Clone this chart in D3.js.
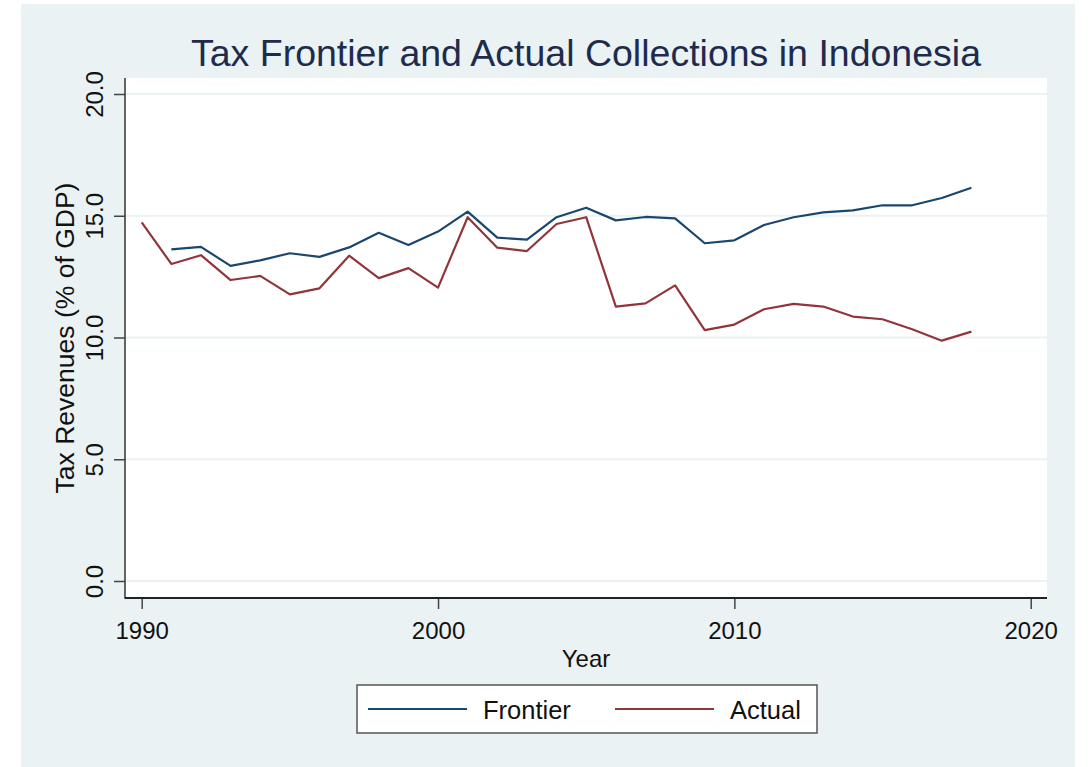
<!DOCTYPE html>
<html>
<head>
<meta charset="utf-8">
<script src="https://cdn.jsdelivr.net/npm/d3@7"></script>
<style>
  html, body { margin: 0; padding: 0; background: #ffffff; }
  svg { display: block; font-family: "Liberation Sans", Arial, sans-serif; }
</style>
</head>
<body>
<svg id="chart" width="1091" height="767"></svg>
<script>
// Tax revenues as % of GDP, Indonesia
const years = d3.range(1990, 2019);
const frontier = [null, 13.62, 13.72, 12.94, 13.17, 13.46, 13.31, 13.70, 14.30, 13.80,
  14.35, 15.17, 14.10, 14.02, 14.94, 15.33, 14.81, 14.95, 14.89, 13.87,
  13.99, 14.62, 14.94, 15.14, 15.22, 15.43, 15.43, 15.73, 16.15];
const actual = [14.73, 13.02, 13.38, 12.36, 12.53, 11.77, 12.02, 13.36, 12.44, 12.85,
  12.05, 14.94, 13.69, 13.55, 14.66, 14.94, 11.27, 11.40, 12.14, 10.30,
  10.53, 11.16, 11.38, 11.27, 10.86, 10.75, 10.34, 9.87, 10.24];
const xTicks = [1990, 2000, 2010, 2020];
const yTicks = [0, 5, 10, 15, 20];
const seriesNames = ["Frontier", "Actual"];
const seriesColors = ["#1a476f", "#90353b"];

const svg = d3.select("#chart");

// outer graph region
svg.append("rect").attr("x", 21).attr("y", 4).attr("width", 1054).attr("height", 763)
  .attr("fill", "#eaf2f3");

// plot region
const plot = { left: 125, right: 1047, top: 78, bottom: 598 };
svg.append("rect").attr("x", plot.left).attr("y", plot.top)
  .attr("width", plot.right - plot.left).attr("height", plot.bottom - plot.top)
  .attr("fill", "#ffffff");

const x = d3.scaleLinear().domain([1990, 2020]).range([141.7, 1030.7]);
const y = d3.scaleLinear().domain([0, 20]).range([581, 94]);

// gridlines
svg.append("g").selectAll("line").data(yTicks).join("line")
  .attr("x1", plot.left).attr("x2", plot.right)
  .attr("y1", d => y(d)).attr("y2", d => y(d))
  .attr("stroke", "#eaf2f3").attr("stroke-width", 2);

// y axis
const yAxis = svg.append("g").attr("transform", `translate(${plot.left},0)`)
  .call(d3.axisLeft(y).tickValues(yTicks).tickFormat(d3.format(".1f")).tickSize(11).tickSizeOuter(0));
yAxis.select(".domain").remove();
yAxis.selectAll(".tick line").attr("stroke", "#444").attr("stroke-width", 1.5);
yAxis.selectAll(".tick text")
  .attr("font-size", 24).attr("fill", "#111")
  .attr("text-anchor", "middle")
  .attr("x", 0).attr("dy", 0)
  .attr("transform", "translate(-22,0) rotate(-90)");

// x axis
const xAxis = svg.append("g").attr("transform", `translate(0,${plot.bottom})`)
  .call(d3.axisBottom(x).tickValues(xTicks).tickFormat(d3.format("d")).tickSize(11).tickSizeOuter(0));
xAxis.select(".domain").remove();
xAxis.selectAll(".tick line").attr("stroke", "#444").attr("stroke-width", 1.5);
xAxis.selectAll(".tick text")
  .attr("font-size", 24).attr("fill", "#111")
  .attr("y", 41).attr("dy", 0);

// axis lines along plot edges
svg.append("line").attr("x1", plot.left).attr("x2", plot.left)
  .attr("y1", plot.top).attr("y2", plot.bottom + 0.75)
  .attr("stroke", "#333").attr("stroke-width", 1.5);
svg.append("line").attr("x1", plot.left).attr("x2", plot.right)
  .attr("y1", plot.bottom).attr("y2", plot.bottom)
  .attr("stroke", "#222").attr("stroke-width", 1.8);

// series lines
const series = [frontier, actual];
const line = d3.line()
  .defined(d => d.v != null)
  .x(d => x(d.year)).y(d => y(d.v));
series.forEach((vals, i) => {
  svg.append("path")
    .datum(years.map((yr, k) => ({ year: yr, v: vals[k] })))
    .attr("d", line)
    .attr("fill", "none")
    .attr("stroke", seriesColors[i])
    .attr("stroke-width", 2.2)
    .attr("stroke-linejoin", "round");
});

// titles
svg.append("text").attr("x", (plot.left + plot.right) / 2).attr("y", 66)
  .attr("text-anchor", "middle").attr("font-size", 37.5).attr("fill", "#1e2b4d")
  .text("Tax Frontier and Actual Collections in Indonesia");

svg.append("text").attr("x", (plot.left + plot.right) / 2).attr("y", 667)
  .attr("text-anchor", "middle").attr("font-size", 24).attr("fill", "#111")
  .text("Year");

svg.append("text")
  .attr("transform", `translate(74,${(plot.top + plot.bottom) / 2}) rotate(-90)`)
  .attr("text-anchor", "middle").attr("font-size", 26.5).attr("fill", "#111")
  .text("Tax Revenues (% of GDP)");

// legend
const legend = svg.append("g");
legend.append("rect").attr("x", 357).attr("y", 685).attr("width", 460).attr("height", 48)
  .attr("fill", "#ffffff").attr("stroke", "#555").attr("stroke-width", 1.5);
const legendItems = [
  { name: seriesNames[0], color: seriesColors[0], x1: 368, x2: 467, tx: 483 },
  { name: seriesNames[1], color: seriesColors[1], x1: 615, x2: 714, tx: 730 }
];
legendItems.forEach(it => {
  legend.append("line").attr("x1", it.x1).attr("x2", it.x2).attr("y1", 709).attr("y2", 709)
    .attr("stroke", it.color).attr("stroke-width", 2.2);
  legend.append("text").attr("x", it.tx).attr("y", 719)
    .attr("font-size", 25.5).attr("fill", "#111").text(it.name);
});
</script>
</body>
</html>
